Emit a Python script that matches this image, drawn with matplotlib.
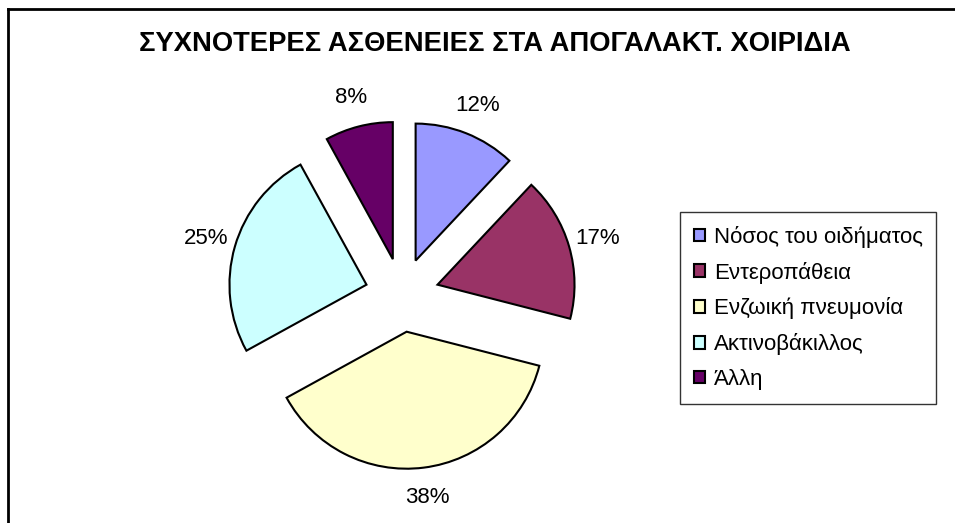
import matplotlib
matplotlib.use("Agg")
import matplotlib.pyplot as plt
from matplotlib.lines import Line2D

# data
labels = ['Νόσος του οιδήματος', 'Εντεροπάθεια', 'Ενζωική πνευμονία', 'Ακτινοβάκιλλος', 'Άλλη']
values = [12, 17, 38, 25, 8]
colors = ['#9999FF', '#993366', '#FFFFCC', '#CCFFFF', '#660066']
title = 'ΣΥΧΝΟΤΕΡΕΣ ΑΣΘΕΝΕΙΕΣ ΣΤΑ ΑΠΟΓΑΛΑΚΤ. ΧΟΙΡΙΔΙΑ'

plt.rcParams['font.family'] = ['Liberation Sans', 'DejaVu Sans']

W, H = 955, 523
R = 137.0          # pie radius in pixels
cx, cy = 402, 295  # pie centre in pixels (from top-left)

fig = plt.figure(figsize=(W/100, H/100), dpi=100)
ax = fig.add_axes([0, 0, 1, 1])

wedges, texts, autotexts = ax.pie(values, colors=colors, startangle=90, counterclock=False,
                                  explode=[0.27]*5, radius=1.0, center=(0, 0),
                                  autopct='%1.0f%%', pctdistance=1.22,
                                  wedgeprops=dict(edgecolor='black', linewidth=1.5),
                                  textprops=dict(fontsize=16, color='black'))
# data units = radius, set after pie so they stick
ax.set_aspect('auto')
ax.set_xlim(-cx/R, (W-cx)/R)
ax.set_ylim(-(H-cy)/R, cy/R)
ax.axis('off')

fig.text(495/W, 1-44/H, title, ha='center', va='center', fontsize=19.7, fontweight='bold')

leg = ax.legend(wedges, labels, loc='upper left', bbox_to_anchor=(680/W, 1-212/H),
                bbox_transform=fig.transFigure, fontsize=16, frameon=True, fancybox=False,
                handlelength=0.5, handleheight=0.5, handletextpad=0.4, labelspacing=0.62,
                borderpad=0.62, borderaxespad=0)
leg.get_frame().set_edgecolor('black')
leg.get_frame().set_linewidth(1.0)

# chart border (left and top only visible)
fig.add_artist(Line2D([8/W, 8/W], [0, 1-9/H], transform=fig.transFigure, color='black', lw=2))
fig.add_artist(Line2D([8/W, 1], [1-9/H, 1-9/H], transform=fig.transFigure, color='black', lw=2))

fig.savefig('out.png', dpi=100)
